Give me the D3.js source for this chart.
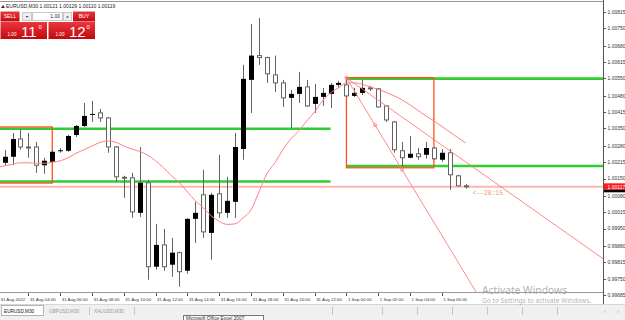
<!DOCTYPE html>
<html>
<head>
<meta charset="utf-8">
<script src="https://cdn.jsdelivr.net/npm/d3@7"></script>
<style>
  body { margin: 0; background: #fff; overflow: hidden; }
  svg { display: block; font-family: "Liberation Sans", Arial, sans-serif; }
</style>
</head>
<body>
<div class="container"></div>
<script>
// EURUSD M30, 31 Aug 02:00 .. 1 Sep 07:30 (60 bars)
const symbol = 'EURUSD,M30';
const lastQuote = [1.00121, 1.00129, 1.00110, 1.00119];
const bid = 1.00117;
const countdown = '<--28:15';

const opens = [1.00194, 1.00213, 1.00237, 1.00308, 1.00276, 1.00276, 1.00203, 1.00217, 1.00259, 1.00261,
    1.00324, 1.00360, 1.00404, 1.00412, 1.00392, 1.00276, 1.00155, 1.00153, 1.00013, 1.00133,
    0.99798, 0.99885, 0.99806, 0.99854, 0.99782, 0.99989, 1.00085, 0.99933, 1.00089, 1.00013,
    1.00057, 1.00268, 1.00544, 1.00641, 1.00633, 1.00564, 1.00532, 1.00472, 1.00488, 1.00516,
    1.00448, 1.00476, 1.00488, 1.00524, 1.00524, 1.00480, 1.00492, 1.00512, 1.00508, 1.00440,
    1.00376, 1.00261, 1.00233, 1.00249, 1.00245, 1.00272, 1.00225, 1.00253, 1.00161, 1.00121];
const highs = [1.00213, 1.00265, 1.00332, 1.00344, 1.00332, 1.00296, 1.00233, 1.00265, 1.00272, 1.00324,
    1.00364, 1.00452, 1.00460, 1.00428, 1.00396, 1.00280, 1.00161, 1.00173, 1.00276, 1.00145,
    0.99969, 0.99949, 0.99913, 0.99858, 0.99991, 1.00057, 1.00185, 1.00093, 1.00245, 1.00157,
    1.00332, 1.00604, 1.00767, 1.00791, 1.00637, 1.00641, 1.00544, 1.00504, 1.00576, 1.00544,
    1.00528, 1.00512, 1.00532, 1.00540, 1.00552, 1.00512, 1.00544, 1.00520, 1.00512, 1.00442,
    1.00380, 1.00296, 1.00320, 1.00272, 1.00296, 1.00276, 1.00268, 1.00268, 1.00165, 1.00129];
const lows = [1.00169, 1.00203, 1.00203, 1.00265, 1.00233, 1.00173, 1.00169, 1.00213, 1.00253, 1.00257,
    1.00316, 1.00356, 1.00376, 1.00376, 1.00253, 1.00137, 1.00073, 0.99993, 0.99997, 0.99746,
    0.99786, 0.99782, 0.99758, 0.99718, 0.99770, 0.99893, 0.99913, 0.99826, 0.99993, 0.99993,
    0.99993, 1.00225, 1.00412, 1.00604, 1.00532, 1.00496, 1.00436, 1.00352, 1.00452, 1.00436,
    1.00412, 1.00440, 1.00432, 1.00512, 1.00476, 1.00476, 1.00484, 1.00500, 1.00434, 1.00376,
    1.00253, 1.00199, 1.00231, 1.00225, 1.00229, 1.00225, 1.00217, 1.00105, 1.00119, 1.00110];
const closes = [1.00203, 1.00237, 1.00308, 1.00276, 1.00274, 1.00203, 1.00221, 1.00257, 1.00263, 1.00320,
    1.00360, 1.00400, 1.00408, 1.00392, 1.00276, 1.00157, 1.00151, 1.00017, 1.00133, 0.99798,
    0.99885, 0.99798, 0.99854, 0.99778, 0.99989, 1.00013, 0.99937, 1.00085, 1.00013, 1.00061,
    1.00276, 1.00548, 1.00641, 1.00633, 1.00568, 1.00532, 1.00472, 1.00488, 1.00516, 1.00440,
    1.00476, 1.00492, 1.00524, 1.00532, 1.00480, 1.00492, 1.00512, 1.00510, 1.00436, 1.00384,
    1.00265, 1.00233, 1.00249, 1.00237, 1.00272, 1.00229, 1.00253, 1.00165, 1.00121, 1.00119];
// moving average
const maValues = [1.00193, 1.00201, 1.00207, 1.00213, 1.00213, 1.00211, 1.00211, 1.00215, 1.00221, 1.00233,
    1.00251, 1.00265, 1.00280, 1.00294, 1.00300, 1.00295, 1.00280, 1.00268, 1.00258, 1.00243,
    1.00221, 1.00193, 1.00161, 1.00133, 1.00097, 1.00061, 1.00033, 1.00001, 0.99979, 0.99967,
    0.99969, 0.99993, 1.00025, 1.00097, 1.00169, 1.00213, 1.00265, 1.00308, 1.00340, 1.00380,
    1.00416, 1.00460, 1.00492, 1.00512, 1.00532, 1.00532, 1.00526, 1.00516, 1.00506, 1.00494,
    1.00480, 1.00464, 1.00444, 1.00422, 1.00400, 1.00380, 1.00358, 1.00336, 1.00314, 1.00292];

const timeLabels = ['31 Aug 2022', '31 Aug 04:00', '31 Aug 06:00', '31 Aug 08:00', '31 Aug 10:00',
    '31 Aug 12:00', '31 Aug 14:00', '31 Aug 16:00', '31 Aug 18:00', '31 Aug 20:00', '31 Aug 22:00',
    '1 Sep 00:00', '1 Sep 02:00', '1 Sep 04:00', '1 Sep 06:00'];
const barsPerLabel = 4;
const priceTicks = [1.00815, 1.00750, 1.00680, 1.00615, 1.00550, 1.00480, 1.00415, 1.00350, 1.00280,
    1.00215, 1.00150, 1.00080, 1.00015, 0.99950, 0.99880, 0.99815, 0.99750, 0.99685];

// drawn objects (bar index, price)
const boxes = [
    { from: -4, to: 7, top: 1.00356, bottom: 1.00132 },
    { from: 44, to: 55, top: 1.00553, bottom: 1.00193 }
];
const levels = [
    { from: -4, to: 42, price: 1.00349 },
    { from: -4, to: 42, price: 1.00138 },
    { from: 44, to: 80, price: 1.00549 },
    { from: 44, to: 80, price: 1.00200 }
];
const rays = [
    { b1: 44, p1: 1.00552, b2: 76, p2: 0.99836, marks: [] },
    { b1: 44, p1: 1.00552, b2: 51, p2: 1.00185, marks: [47.6, 51] }
];

const W = 625, H = 320;
const plotRight = 603, plotBottom = 292;

const svg = d3.select('.container').append('svg')
    .attr('width', W).attr('height', H)
    .attr('viewBox', [0, 0, W, H]);

const x = d3.scaleLinear().domain([0, 59]).range([-3.4, 465.7]);
const y = d3.scaleLinear().domain([0.99685, 1.00815]).range([295, 12]);

svg.append('clipPath').attr('id', 'plot')
    .append('rect').attr('x', 0).attr('y', 1.5).attr('width', plotRight).attr('height', plotBottom - 1.5);

const plot = svg.append('g').attr('clip-path', 'url(#plot)');

// bid line
plot.append('line')
    .attr('x1', 0).attr('x2', plotRight)
    .attr('y1', y(bid)).attr('y2', y(bid))
    .attr('stroke', '#ffb6b6').attr('stroke-width', 2);

// green levels
plot.append('g').selectAll('line')
    .data(levels)
    .join('line')
    .attr('x1', d => x(d.from)).attr('x2', d => x(d.to))
    .attr('y1', d => y(d.price)).attr('y2', d => y(d.price))
    .attr('stroke', '#32cd32').attr('stroke-width', 2.6);

// boxes
plot.append('g').selectAll('rect')
    .data(boxes)
    .join('rect')
    .attr('x', d => x(d.from)).attr('width', d => x(d.to) - x(d.from))
    .attr('y', d => y(d.top)).attr('height', d => y(d.bottom) - y(d.top))
    .attr('fill', 'none').attr('stroke', '#ff4f1a').attr('stroke-width', 1.3);

// candles
const wick = '#626262';
const bars = plot.append('g').selectAll('g')
    .data(d3.range(opens.length))
    .join('g');
bars.append('line')
    .attr('x1', i => Math.round(x(i)) + 0.5).attr('x2', i => Math.round(x(i)) + 0.5)
    .attr('y1', i => y(highs[i])).attr('y2', i => y(lows[i]))
    .attr('stroke', wick).attr('stroke-width', 1);
bars.append('rect')
    .attr('x', i => closes[i] > opens[i] ? Math.round(x(i)) - 2 : Math.round(x(i)) - 1.5)
    .attr('width', i => closes[i] > opens[i] ? 5 : 4)
    .attr('y', i => y(Math.max(opens[i], closes[i])))
    .attr('height', i => Math.max(1, Math.abs(y(opens[i]) - y(closes[i]))))
    .attr('fill', i => closes[i] > opens[i] ? '#000' : '#fff')
    .attr('stroke', i => closes[i] > opens[i] ? 'none' : wick)
    .attr('stroke-width', 1);

// moving average
plot.append('path')
    .datum(maValues)
    .attr('fill', 'none')
    .attr('stroke', '#ff8080').attr('stroke-width', 1)
    .attr('d', d3.line().x((d, i) => x(i)).y(d => y(d)).curve(d3.curveMonotoneX));

// rays
rays.forEach(r => {
    const slope = (r.p2 - r.p1) / (r.b2 - r.b1);
    const far = r.b1 + 80;
    plot.append('line')
        .attr('x1', x(r.b1)).attr('y1', y(r.p1))
        .attr('x2', x(far)).attr('y2', y(r.p1 + slope * 80))
        .attr('stroke', '#ff7a7a').attr('stroke-width', 0.9);
    plot.selectAll(null)
        .data(r.marks)
        .join('circle')
        .attr('cx', b => x(b)).attr('cy', b => y(r.p1 + slope * (b - r.b1)))
        .attr('r', 1.5)
        .attr('fill', 'none').attr('stroke', '#ff7a7a').attr('stroke-width', 0.8);
});
plot.append('circle')
    .attr('cx', x(rays[0].b1)).attr('cy', y(rays[0].p1)).attr('r', 1.6)
    .attr('fill', 'none').attr('stroke', '#ff7a7a').attr('stroke-width', 0.8);

// countdown
svg.append('text')
    .attr('x', x(59) + 7).attr('y', y(bid) + 8)
    .attr('font-family', 'Liberation Mono, monospace')
    .attr('font-size', 6.3).attr('fill', '#f0956a')
    .text(countdown);

// frame
svg.append('line').attr('x1', 0).attr('x2', plotRight).attr('y1', 1.5).attr('y2', 1.5)
    .attr('stroke', '#9a9a9a');
svg.append('line').attr('x1', 0).attr('x2', plotRight).attr('y1', plotBottom + 0.5).attr('y2', plotBottom + 0.5)
    .attr('stroke', '#9a9a9a');
svg.append('line').attr('x1', plotRight + 0.5).attr('x2', plotRight + 0.5).attr('y1', 0).attr('y2', 304)
    .attr('stroke', '#555');

// price axis
const pAxis = svg.append('g');
pAxis.selectAll('line')
    .data(priceTicks)
    .join('line')
    .attr('x1', plotRight + 1).attr('x2', plotRight + 3)
    .attr('y1', d => Math.round(y(d)) + 0.5).attr('y2', d => Math.round(y(d)) + 0.5)
    .attr('stroke', '#555');
pAxis.selectAll('text')
    .data(priceTicks)
    .join('text')
    .attr('x', plotRight + 4.5).attr('y', d => y(d) + 1.8)
    .attr('font-size', 5).attr('fill', '#333')
    .text(d => d.toFixed(5));

// bid label
svg.append('rect')
    .attr('x', plotRight + 1).attr('y', y(bid) - 3.5).attr('width', W - plotRight).attr('height', 6.5)
    .attr('fill', '#ff1a1a');
svg.append('rect')
    .attr('x', plotRight + 1).attr('y', y(bid) + 3).attr('width', W - plotRight).attr('height', 2.5)
    .attr('fill', '#000');
svg.append('text')
    .attr('x', plotRight + 4.5).attr('y', y(bid) + 1.8)
    .attr('font-size', 5).attr('fill', '#fff')
    .text(bid.toFixed(5));

// time axis
const tAxis = svg.append('g');
tAxis.selectAll('line')
    .data(timeLabels)
    .join('line')
    .attr('x1', (d, i) => Math.round(x(i * barsPerLabel)) + 0.5)
    .attr('x2', (d, i) => Math.round(x(i * barsPerLabel)) + 0.5)
    .attr('y1', plotBottom + 1).attr('y2', plotBottom + 4)
    .attr('stroke', '#555');
tAxis.selectAll('text')
    .data(timeLabels)
    .join('text')
    .attr('x', (d, i) => Math.max(0.5, x(i * barsPerLabel) + 1.5))
    .attr('y', plotBottom + 8.5)
    .attr('font-size', 4.4).attr('fill', '#333')
    .text(d => d);

// header
svg.append('path')
    .attr('d', 'M1,8 L3,5 L5,8 Z').attr('fill', '#333');
svg.append('text')
    .attr('x', 6).attr('y', 8.2)
    .attr('font-size', 5).attr('fill', '#222')
    .text(`${symbol}  ${lastQuote.map(d => d.toFixed(5)).join(' ')}`);

// one click trading panel
const defs = svg.append('defs');
const grad = defs.append('linearGradient').attr('id', 'red').attr('x1', 0).attr('x2', 0).attr('y1', 0).attr('y2', 1);
grad.append('stop').attr('offset', '0%').attr('stop-color', '#e8373c');
grad.append('stop').attr('offset', '100%').attr('stop-color', '#c3090f');

const panel = svg.append('g');
panel.append('rect').attr('x', 0.5).attr('y', 11.5).attr('width', 19).attr('height', 10).attr('fill', 'url(#red)');
panel.append('text').attr('x', 10).attr('y', 18.3).attr('text-anchor', 'middle')
    .attr('font-size', 5.2).attr('fill', '#fff').text('SELL');
panel.append('rect').attr('x', 22.5).attr('y', 12.5).attr('width', 9).attr('height', 8)
    .attr('fill', '#efefef').attr('stroke', '#c8c8c8');
panel.append('path').attr('d', 'M25.5,16 L28.5,16 L27,17.8 Z').attr('fill', '#444');
panel.append('rect').attr('x', 32.5).attr('y', 12.5).attr('width', 30).attr('height', 8)
    .attr('fill', '#fff').attr('stroke', '#c8c8c8');
panel.append('text').attr('x', 60).attr('y', 18.3).attr('text-anchor', 'end')
    .attr('font-size', 5).attr('fill', '#222').text('1.00');
panel.append('rect').attr('x', 63.5).attr('y', 12.5).attr('width', 8).attr('height', 8)
    .attr('fill', '#efefef').attr('stroke', '#c8c8c8');
panel.append('path').attr('d', 'M66,17.5 L69,17.5 L67.5,15.7 Z').attr('fill', '#444');
panel.append('rect').attr('x', 73).attr('y', 11.5).attr('width', 22).attr('height', 10).attr('fill', 'url(#red)');
panel.append('text').attr('x', 84).attr('y', 18.3).attr('text-anchor', 'middle')
    .attr('font-size', 5.2).attr('fill', '#fff').text('BUY');

const quotes = [{ x0: 0.5, pips: '11' }, { x0: 48.5, pips: '12' }];
quotes.forEach(q => {
    panel.append('rect').attr('x', q.x0).attr('y', 22).attr('width', 46.5).attr('height', 17).attr('fill', 'url(#red)');
    panel.append('text').attr('x', q.x0 + 7).attr('y', 35.5)
        .attr('font-size', 4.6).attr('fill', '#fff').text('1.00');
    panel.append('text').attr('x', q.x0 + 20.5).attr('y', 37)
        .attr('font-size', 15).attr('fill', '#fff').text(q.pips);
    panel.append('text').attr('x', q.x0 + 38).attr('y', 29)
        .attr('font-size', 6).attr('fill', '#fff').text('0');
});

// tabs
const tabs = svg.append('g');
tabs.append('rect').attr('x', 0).attr('y', 304).attr('width', W).attr('height', 16).attr('fill', '#f0f0f0');
tabs.append('line').attr('x1', 0).attr('x2', W).attr('y1', 304.5).attr('y2', 304.5).attr('stroke', '#d6d6d6');
tabs.append('rect').attr('x', 1.5).attr('y', 305.5).attr('width', 42).attr('height', 10)
    .attr('fill', '#fff').attr('stroke', '#b4b4b4');
const tabNames = ['EURUSD,M30', 'GBPUSD,M30', 'XAUUSD,M30'];
tabs.selectAll('text.tab')
    .data(tabNames)
    .join('text')
    .attr('class', 'tab')
    .attr('x', (d, i) => 4 + i * 45)
    .attr('y', 312.8)
    .attr('font-size', 4.7)
    .attr('fill', (d, i) => i === 0 ? '#111' : '#999')
    .text(d => d);
tabs.selectAll('line.sep')
    .data([89, 134, 332, 382, 417, 452, 487, 522, 557])
    .join('line')
    .attr('class', 'sep')
    .attr('x1', d => d + 0.5).attr('x2', d => d + 0.5)
    .attr('y1', 307).attr('y2', 315)
    .attr('stroke', '#c4c4c4');
tabs.append('text').attr('x', 604).attr('y', 313).attr('font-size', 6).attr('fill', '#aaa').text('‹');
tabs.append('text').attr('x', 617).attr('y', 313).attr('font-size', 6).attr('fill', '#aaa').text('›');

// tooltip
tabs.append('rect').attr('x', 183.5).attr('y', 315.5).attr('width', 80).attr('height', 8)
    .attr('fill', '#fafafa').attr('stroke', '#777');
tabs.append('text').attr('x', 186).attr('y', 319.6).attr('font-size', 4.8).attr('fill', '#333')
    .text('Microsoft Office Excel 2007');

// watermark
svg.append('text').attr('x', 482).attr('y', 293.5)
    .attr('font-family', 'Noto Sans, Open Sans, sans-serif')
    .attr('font-size', 10.3).attr('fill', '#a8a8a8').attr('fill-opacity', 0.9)
    .text('Activate Windows');
svg.append('text').attr('x', 482).attr('y', 302.5)
    .attr('font-family', 'Noto Sans, Open Sans, sans-serif')
    .attr('font-size', 6.6).attr('fill', '#a8a8a8').attr('fill-opacity', 0.9)
    .text('Go to Settings to activate Windows.');
</script>
</body>
</html>
